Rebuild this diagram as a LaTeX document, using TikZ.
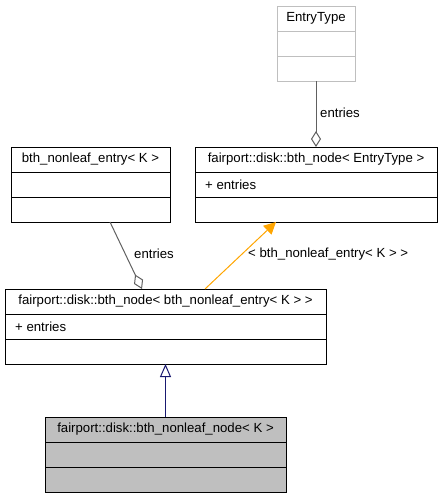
\documentclass[tikz,border=0pt]{standalone}
\usepackage{fontspec}
\setmainfont{Liberation Sans}
\usetikzlibrary{arrows.meta}
\definecolor{boxgray}{HTML}{BFBFBF}
\definecolor{aggr}{HTML}{606060}
\definecolor{tmpl}{HTML}{FFA500}
\definecolor{inh}{HTML}{191970}
\tikzset{
  classbox/.style={draw=black, line width=1pt, fill=white, minimum height=75pt, inner sep=0pt, outer sep=0pt},
  ghostbox/.style={draw=boxgray, line width=1pt, fill=white},
  leafbox/.style={fill=boxgray},
  divider/.style={line width=1pt},
  txt/.style={font=\fontsize{13.2}{15}\selectfont, inner sep=0pt, text=black},
  aggrline/.style={draw=aggr, line width=1pt, -{Diamond[open, fill=white, length=16pt, width=10pt, line width=1pt]}},
  tmplline/.style={draw=tmpl, line width=1pt, -{Triangle[length=12pt, width=12pt]}},
  inhline/.style={draw=inh, line width=1pt, -{Triangle[open, fill=white, length=13pt, width=11pt, line width=1pt]}},
}
\newcommand\umlclass[6]{% name, x, y, width, extra style, title
  \node[classbox, #5, minimum width=#4pt, anchor=north west] (#1) at (#2,#3) {};
  \draw[divider, #5, fill=none] ([yshift=-25pt]#1.north west) -- ([yshift=-25pt]#1.north east);
  \draw[divider, #5, fill=none] ([yshift=-50pt]#1.north west) -- ([yshift=-50pt]#1.north east);
  \node[txt] (#1-title) at ([yshift=-12.5pt]#1.north) {#6};
}
\begin{document}
\begin{tikzpicture}[x=1pt, y=-1pt]
\useasboundingbox (0,0) rectangle (443,499);
\umlclass{et}{277}{6}{78}{ghostbox}{EntryType}
\umlclass{bt}{195}{147}{242}{}{fairport::disk::bth\_node< EntryType >}
\node[txt, anchor=west] (bt-attr) at ([xshift=10pt, yshift=-37.5pt]bt.north west) {+ entries};
\umlclass{ne}{11}{147}{159}{}{bth\_nonleaf\_entry< K >}
\umlclass{nn}{5}{289}{321}{}{fairport::disk::bth\_node< bth\_nonleaf\_entry< K > >}
\node[txt, anchor=west] (nn-attr) at ([xshift=10pt, yshift=-37.5pt]nn.north west) {+ entries};
\umlclass{lf}{45}{417}{241}{leafbox}{fairport::disk::bth\_nonleaf\_node< K >}

\draw[aggrline] (et.south) -- (bt.north);
\node[txt, anchor=west] (l1) at (320,113) {entries};
\draw[aggrline] ([xshift=19.5pt]ne.south) -- ([xshift=-23.5pt]nn.north);
\node[txt, anchor=west] (l2) at (134,254) {entries};
\draw[tmplline] ([xshift=39.5pt]nn.north) -- ([xshift=-40pt]bt.south);
\node[txt, anchor=west] (l3) at (248,254) {< bth\_nonleaf\_entry< K > >};
\draw[inhline] (lf.north) -- (nn.south);
\end{tikzpicture}
\end{document}
